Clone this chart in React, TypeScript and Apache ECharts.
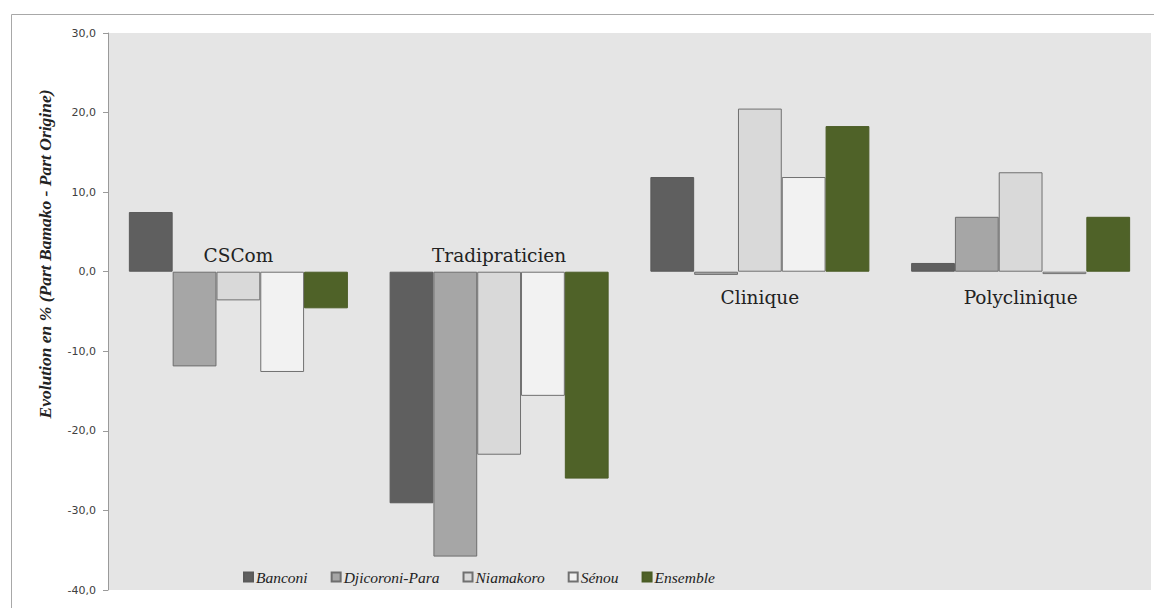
import React, { useEffect, useRef } from "react";
import * as echarts from "echarts";

const categories = ["CSCom", "Tradipraticien", "Clinique", "Polyclinique"];
const categoriesLabelledAbove = ["CSCom", "Tradipraticien"];
const seriesNames = ["Banconi", "Djicoroni-Para", "Niamakoro", "Sénou", "Ensemble"];
const banconi = [7.5, -29.1, 11.9, 1.1];
const djicoroni = [-11.9, -35.8, -0.4, 6.9];
const niamakoro = [-3.6, -23.0, 20.5, 12.5];
const senou = [-12.6, -15.6, 11.9, -0.3];
const ensemble = [-4.6, -26.0, 18.3, 6.9];
const seriesValues = [banconi, djicoroni, niamakoro, senou, ensemble];
const yTicks = [-40, -30, -20, -10, 0, 10, 20, 30];
const yTitle = "Evolution en % (Part Bamako - Part Origine)";

const fills = ["#5f5f5f", "#a6a6a6", "#d9d9d9", "#f2f2f2", "#4f6228"];
const borders = ["#5a5a5a", "#6e6e6e", "#707070", "#707070", "#4a5c25"];

export default function App() {
  const ref = useRef<HTMLDivElement>(null);
  useEffect(() => {
    if (!ref.current) return;
    const chart = echarts.init(ref.current, null, { renderer: "svg" });
    const yMin = yTicks[0];
    const yMax = yTicks[yTicks.length - 1];
    const staticGraphics: any[] = [
      {
        type: "rect",
        left: 9,
        top: 12,
        shape: { width: 1200, height: 700 },
        style: { fill: "none", stroke: "#a8a8a8", lineWidth: 1 },
        silent: true,
      },
      {
        type: "text",
        x: 45,
        y: 254,
        rotation: Math.PI / 2,
        style: {
          text: yTitle,
          fontFamily: "Liberation Serif",
          fontStyle: "italic",
          fontWeight: "bold",
          fontSize: 17.5,
          fill: "#222222",
          textAlign: "center",
          textVerticalAlign: "middle",
        },
      },
    ];
    chart.setOption({
      animation: false,
      backgroundColor: "#ffffff",
      grid: {
        left: 108,
        right: 3,
        top: 33,
        bottom: 18,
        show: true,
        backgroundColor: "#e5e5e5",
        borderWidth: 0,
      },
      legend: {
        left: 238,
        top: 564,
        itemWidth: 9,
        itemHeight: 9,
        itemGap: 23,
        icon: "rect",
        data: seriesNames,
        textStyle: {
          fontFamily: "Liberation Serif",
          fontStyle: "italic",
          fontSize: 15.5,
          color: "#222222",
          padding: [0, 0, 0, -2],
        },
      },
      xAxis: {
        type: "category",
        data: categories,
        axisLine: { show: false },
        axisTick: { show: false },
        splitLine: { show: false },
        axisLabel: { show: false },
      },
      yAxis: {
        type: "value",
        min: yMin,
        max: yMax,
        interval: 10,
        axisLine: { show: true, lineStyle: { color: "#9a9a9a" } },
        axisTick: { show: true, length: 5, lineStyle: { color: "#9a9a9a" } },
        splitLine: { show: false },
        axisLabel: {
          margin: 12,
          fontFamily: "DejaVu Sans",
          fontSize: 11,
          color: "#404040",
          formatter: (v: number) => v.toFixed(1).replace(".", ","),
        },
      },
      series: seriesNames.map((name, i) => ({
        name,
        type: "bar",
        data: seriesValues[i],
        barGap: "0%",
        barCategoryGap: "16%",
        itemStyle: {
          color: fills[i],
          borderColor: borders[i],
          borderWidth: 1,
        },
      })),
      graphic: staticGraphics,
    });
    // Category labels placed next to the zero line, using the chart's own scales
    const labelGraphics = categories.map((cat) => {
      const p = chart.convertToPixel({ xAxisIndex: 0, yAxisIndex: 0 }, [cat, 0]) as number[];
      const above = categoriesLabelledAbove.includes(cat);
      return {
        type: "text",
        x: p[0],
        y: above ? p[1] - 16 : p[1] + 26,
        style: {
          text: cat,
          fontFamily: "DejaVu Serif",
          fontSize: 18.5,
          fill: "#222222",
          textAlign: "center",
          textVerticalAlign: "middle",
        },
      };
    });
    chart.setOption({ graphic: [...staticGraphics, ...labelGraphics] });
    return () => chart.dispose();
  }, []);
  return (
    <div
      ref={ref}
      style={{ position: "fixed", left: 0, top: 0, width: 1154, height: 608 }}
    />
  );
}
